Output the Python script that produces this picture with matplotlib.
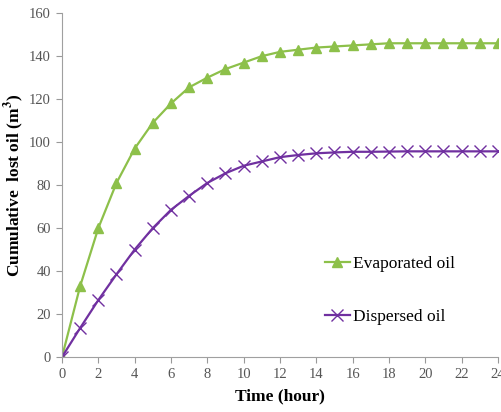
import matplotlib
matplotlib.use("Agg")
import matplotlib.pyplot as plt

# Data
hours = list(range(0, 25))
evaporated = [0, 33, 60, 81, 97, 109, 118, 125.5, 130, 134, 137, 140, 142,
              143, 144, 144.5, 145, 145.5, 146, 146, 146, 146, 146, 146, 146]
dispersed = [0, 13.5, 26.5, 38.5, 50, 60, 68.5, 75, 81, 85.5, 89, 91, 93,
             94, 94.8, 95.2, 95.5, 95.5, 95.6, 95.7, 95.7, 95.7, 95.7, 95.7, 95.7]
x_ticks = list(range(0, 25, 2))
y_ticks = list(range(0, 161, 20))

GREEN = "#8DC04A"
PURPLE = "#7030A0"

plt.rcParams["font.family"] = ["Liberation Serif", "DejaVu Serif"]
plt.rcParams["mathtext.fontset"] = "stix"

fig = plt.figure(figsize=(5.02, 4.12), dpi=100)
ax = fig.add_axes([0.1235, 0.1335, 0.8685, 0.8345])

ax.plot(hours, evaporated, color=GREEN, lw=1.6, marker="^", markersize=6.5,
        label="Evaporated oil")
ax.plot(hours, dispersed, color=PURPLE, lw=1.6, marker="x", markersize=9,
        markeredgewidth=1.0, label="Dispersed oil")

ax.set_xlim(0, 24)
ax.set_ylim(0, 160)
ax.set_xticks(x_ticks)
ax.set_yticks(y_ticks)
ax.tick_params(colors="#999999", labelcolor="#555555", labelsize=10.5,
               length=4, pad=4)
for side in ["top", "right"]:
    ax.spines[side].set_visible(False)
for side in ["left", "bottom"]:
    ax.spines[side].set_color("#a0a0a0")

ax.set_xlabel("Time (hour)", fontsize=12.5, fontweight="bold", labelpad=5)
ax.set_ylabel("Cumulative  lost oil (m$^{\\mathbf{3}}$)", fontsize=12.5,
              fontweight="bold", labelpad=2)

ax.legend(loc="upper left", bbox_to_anchor=(0.587, 0.313), frameon=False,
          fontsize=12.5, labelspacing=2.1, handlelength=1.45, handletextpad=0.15,
          borderaxespad=0)

fig.savefig("out.png", dpi=100)
